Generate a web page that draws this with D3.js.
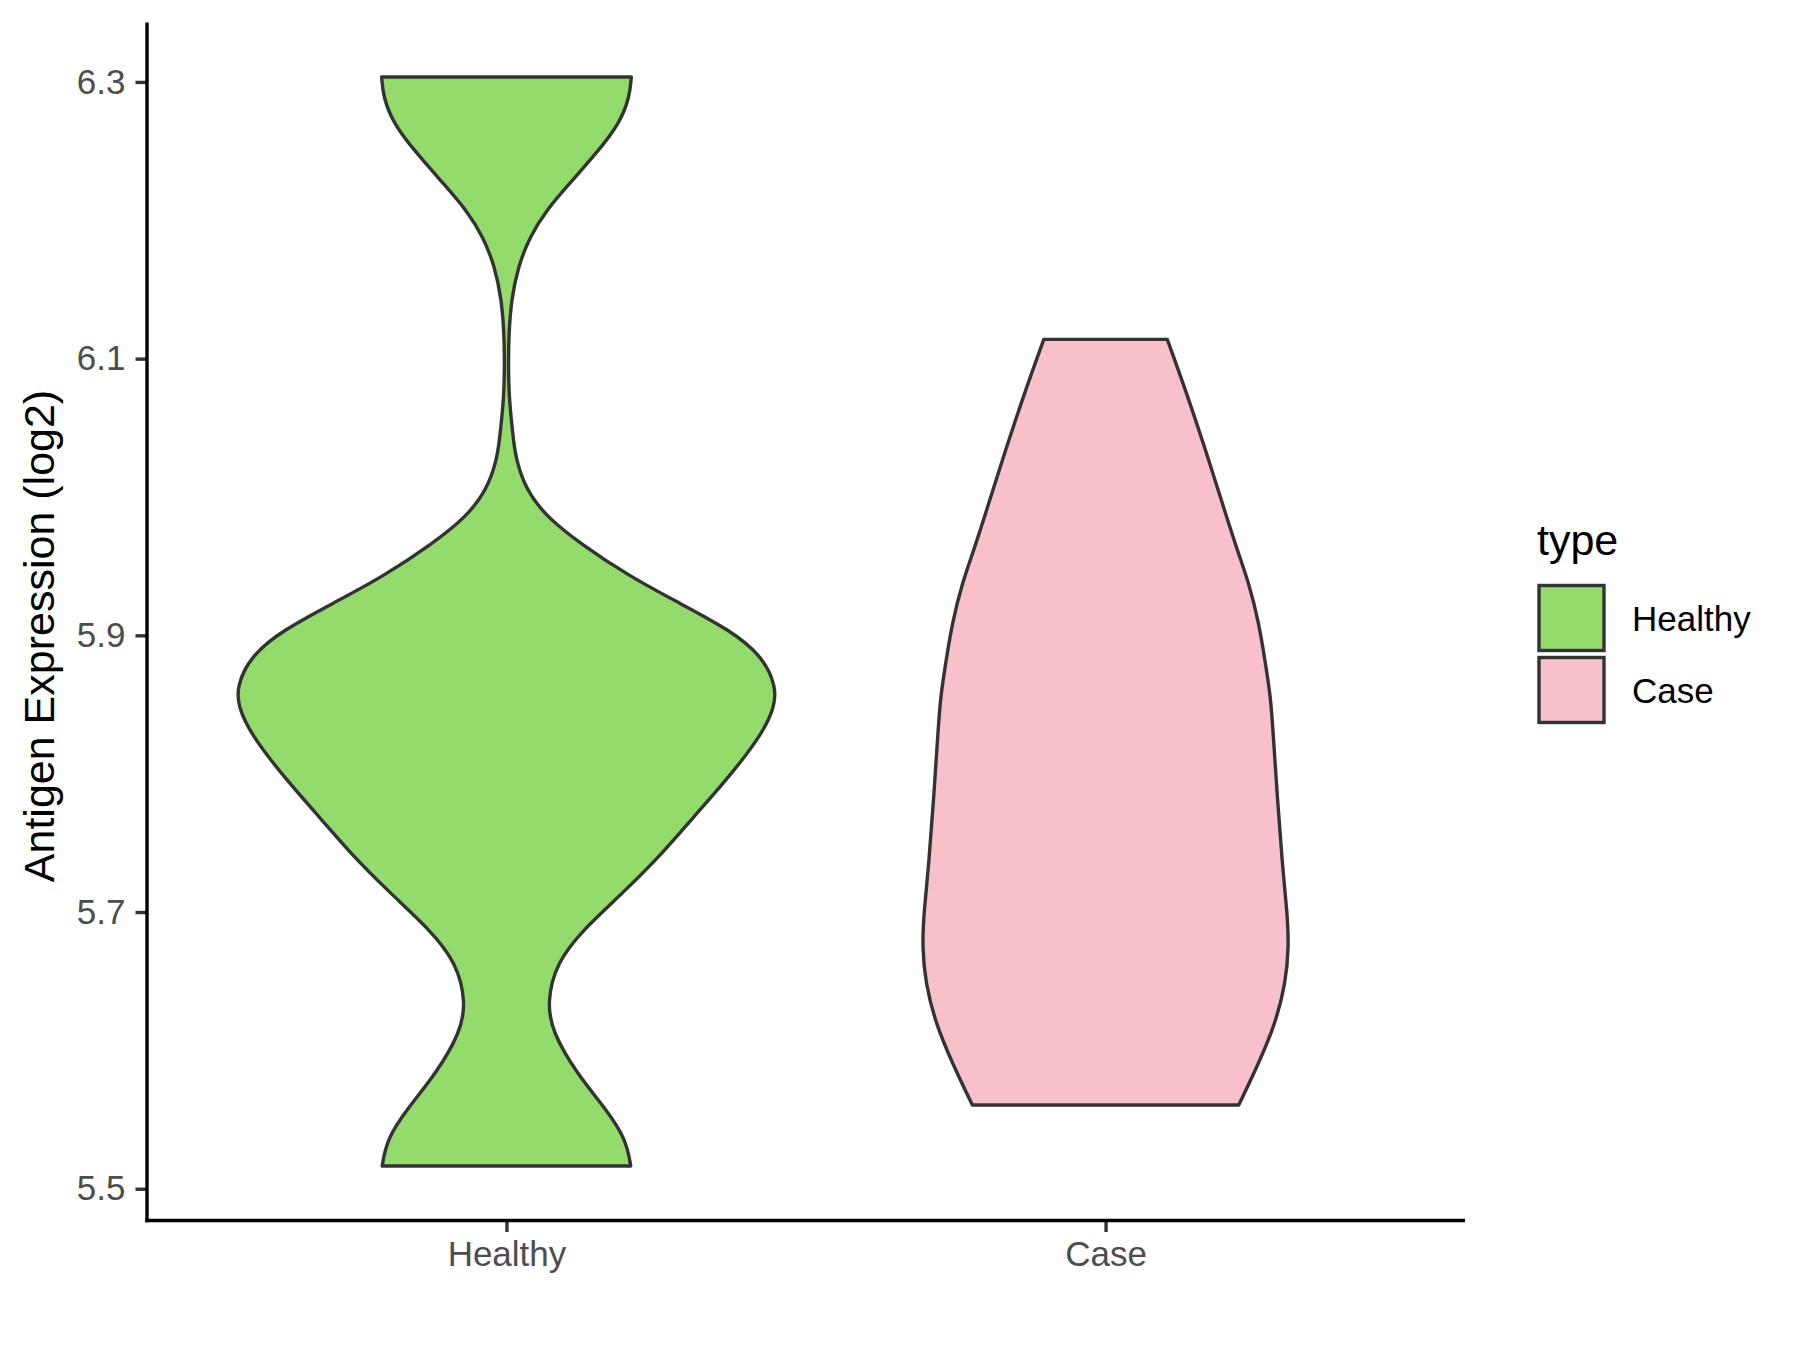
<!DOCTYPE html>
<html>
<head>
<meta charset="utf-8">
<script src="https://cdn.jsdelivr.net/npm/d3@7"></script>
<style>
  html, body { margin: 0; padding: 0; background: #ffffff; }
  svg { display: block; }
  text { font-family: "Liberation Sans", Arial, "DejaVu Sans", sans-serif; }
</style>
</head>
<body>
<svg id="chart" width="1800" height="1350"></svg>
<script>
// ---------------- DATA ----------------
const categories = ["Healthy", "Case"];
const fillColors = ["#93DB6B", "#F7C0CB"];
const yTicks = [5.5, 5.7, 5.9, 6.1, 6.3];
const yTickLabels = ["5.5", "5.7", "5.9", "6.1", "6.3"];
const yTitle = "Antigen Expression (log2)";
const legendTitle = "type";

// Violin outlines: expression value and scaled density (1 = widest violin)
const healthyValues = [5.5164, 5.5357, 5.5573, 5.5838, 5.6127, 5.6343, 5.6632, 5.6873, 5.7138, 5.7427,
  5.7667, 5.7980, 5.8294, 5.8486, 5.8630, 5.8847, 5.9040, 5.9233, 5.9425, 5.9666,
  5.9858, 6.0051, 6.0268, 6.0412, 6.0557, 6.0749, 6.0990, 6.1183, 6.1423, 6.1664,
  6.1880, 6.2073, 6.2266, 6.2483, 6.2700, 6.2892, 6.3036];
const healthyDensity = [0.461, 0.444, 0.370, 0.259, 0.172, 0.150, 0.185, 0.284, 0.432, 0.580,
  0.685, 0.828, 0.951, 0.995, 1.000, 0.951, 0.828, 0.642, 0.457, 0.272,
  0.148, 0.073, 0.036, 0.026, 0.018, 0.009, 0.007, 0.009, 0.018, 0.043,
  0.086, 0.148, 0.234, 0.333, 0.420, 0.457, 0.463];

const caseValues = [5.5605, 5.5910, 5.6199, 5.6488, 5.6752, 5.6994, 5.7355, 5.7836, 5.8317, 5.8558,
  5.8799, 5.9088, 5.9377, 5.9618, 5.9955, 6.0340, 6.0773, 6.1139];
const caseDensity = [0.494, 0.569, 0.631, 0.668, 0.680, 0.674, 0.655, 0.637, 0.621, 0.612,
  0.593, 0.569, 0.532, 0.488, 0.433, 0.371, 0.297, 0.229];

const seriesValues = [healthyValues, caseValues];
const seriesDensity = [healthyDensity, caseDensity];

// ---------------- LAYOUT ----------------
const svg = d3.select("#chart");
const panel = { left: 147, right: 1465, top: 22.5, bottom: 1220.5 };

const allVals = healthyValues.concat(caseValues);
const vMin = d3.min(allVals), vMax = d3.max(allVals);
const pad = (vMax - vMin) * 0.05;

const y = d3.scaleLinear().domain([vMin - pad, vMax + pad]).range([panel.bottom, panel.top]);
const x = d3.scalePoint().domain(categories).range([panel.left, panel.right]).padding(0.6);
const halfW = d3.scaleLinear().domain([0, 1]).range([0, x.step() * 0.45]);

// ---------------- VIOLINS ----------------
categories.forEach((cat, i) => {
  const cx = x(cat);
  const pts = seriesValues[i].map((v, k) => ({ v: v, d: seriesDensity[i][k] }));
  const area = d3.area()
    .y(p => y(p.v))
    .x0(p => cx - halfW(p.d))
    .x1(p => cx + halfW(p.d))
    .curve(d3.curveBasis);
  svg.append("path")
    .datum(pts)
    .attr("d", area)
    .attr("fill", fillColors[i])
    .attr("stroke", "#333333")
    .attr("stroke-width", 3.4)
    .attr("stroke-linejoin", "round");
});

// ---------------- AXES ----------------
const yAxis = d3.axisLeft(y).tickValues(yTicks).tickFormat((d, i) => yTickLabels[i])
  .tickSize(11.5).tickPadding(10);
const gy = svg.append("g").attr("transform", `translate(${panel.left},0)`).call(yAxis);
gy.select(".domain").remove();
gy.selectAll(".tick line").attr("stroke", "#333333").attr("stroke-width", 3.4);
gy.selectAll(".tick text").attr("fill", "#4D4D4D").style("font-size", "35px")
  .style("font-family", "'Liberation Sans', Arial, sans-serif");

const xAxis = d3.axisBottom(x).tickSize(11.5).tickPadding(9);
const gx = svg.append("g").attr("transform", `translate(0,${panel.bottom})`).call(xAxis);
gx.select(".domain").remove();
gx.selectAll(".tick line").attr("stroke", "#333333").attr("stroke-width", 3.4);
gx.selectAll(".tick text").attr("fill", "#4D4D4D").style("font-size", "35px")
  .style("font-family", "'Liberation Sans', Arial, sans-serif");

// axis lines (theme_classic)
svg.append("line").attr("x1", panel.left).attr("x2", panel.left)
  .attr("y1", panel.top).attr("y2", panel.bottom + 1.7)
  .attr("stroke", "#000").attr("stroke-width", 3.4);
svg.append("line").attr("x1", panel.left - 1.7).attr("x2", panel.right)
  .attr("y1", panel.bottom).attr("y2", panel.bottom)
  .attr("stroke", "#000").attr("stroke-width", 3.4);

// y title
svg.append("text")
  .attr("transform", `translate(54,636) rotate(-90)`)
  .attr("text-anchor", "middle")
  .attr("fill", "#000")
  .style("font-size", "43px")
  .text(yTitle);

// ---------------- LEGEND ----------------
const lg = svg.append("g");
lg.append("text").attr("x", 1537).attr("y", 555).attr("fill", "#000")
  .style("font-size", "43px").text(legendTitle);
categories.forEach((cat, i) => {
  const ky = 585.5 + i * 72;
  lg.append("rect").attr("x", 1539).attr("y", ky).attr("width", 65).attr("height", 65)
    .attr("fill", fillColors[i]).attr("stroke", "#333333").attr("stroke-width", 3.4);
  lg.append("text").attr("x", 1632).attr("y", ky + 45).attr("fill", "#000")
    .style("font-size", "35px").text(cat);
});
</script>
</body>
</html>
